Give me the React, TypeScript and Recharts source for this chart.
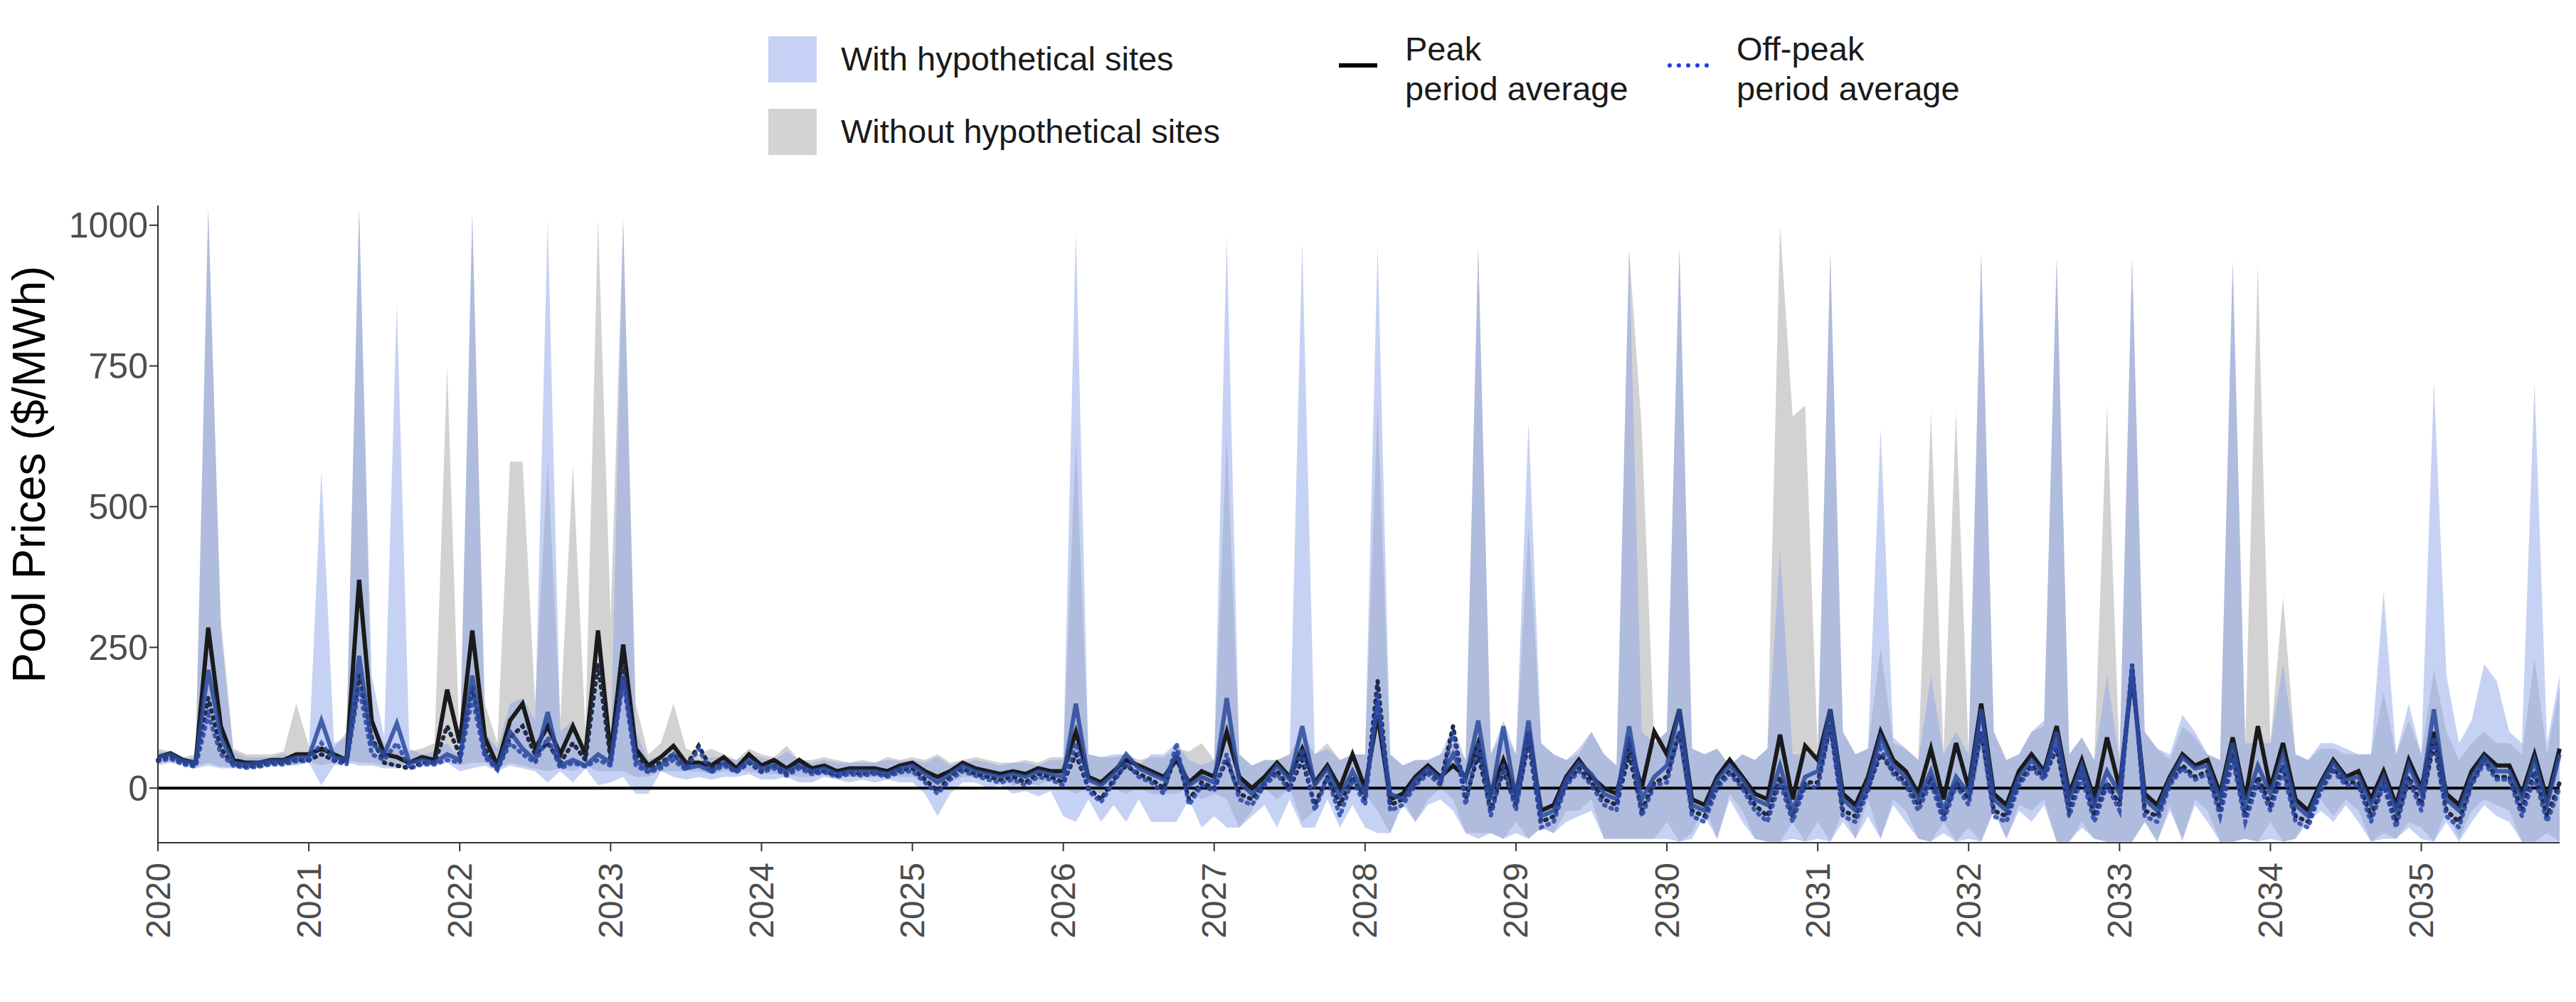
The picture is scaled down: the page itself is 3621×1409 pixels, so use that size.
import { ComposedChart, Area, Line, XAxis, YAxis, ReferenceLine } from 'recharts';

// monthly, Jan 2020 .. Dec 2035 (index = months since Jan 2020)
const withMax = [
  65, 62, 50, 55, 1030, 280, 65, 55, 55, 55, 60, 55,
  60, 565, 80, 90, 1030, 200, 90, 860, 70, 60, 65, 80,
  55, 1020, 100, 70, 150, 160, 120, 1010, 100, 120, 60, 200,
  60, 1010, 100, 50, 60, 80, 50, 50, 55, 55, 50, 60,
  55, 50, 65, 50, 45, 50, 45, 45, 45, 45, 50, 48,
  50, 45, 55, 40, 45, 50, 45, 40, 45, 45, 40, 50,
  50, 990, 60, 55, 60, 60, 40, 60, 60, 80, 50, 40,
  50, 980, 60, 40, 50, 50, 60, 970, 60, 70, 50, 60,
  60, 965, 60, 40, 50, 50, 60, 110, 50, 960, 60, 120,
  60, 650, 80, 60, 50, 70, 100, 60, 40, 955, 100, 80,
  100, 960, 70, 60, 70, 40, 60, 50, 70, 420, 60, 60,
  60, 950, 100, 60, 70, 640, 90, 70, 50, 200, 60, 100,
  60, 950, 100, 50, 60, 100, 120, 940, 60, 90, 50, 200,
  50, 940, 100, 70, 60, 130, 100, 60, 50, 940, 80, 80,
  80, 220, 60, 50, 80, 80, 70, 60, 60, 350, 60, 150,
  60, 720, 200, 80, 120, 220, 190, 100, 80, 720, 80, 200,
];
const withMin = [
  40, 45, 40, 35, 40, 35, 35, 35, 35, 40, 40, 40,
  45, 5, 40, 45, 40, 40, 35, 35, 40, 40, 40, 45,
  30, 35, 40, 30, 40, 35, 30, 10, 30, 10, 35, 5,
  10, 20, -10, -10, 30, 20, 15, 20, 15, 20, 20, 25,
  15, 15, 20, 10, 10, 20, 15, 10, 15, 10, 15, 10,
  10, -10, -50, -10, 10, 10, 0, 5, -10, -5, -15, -5,
  -50, -60, -20, -60, -30, -60, -20, -60, -60, -60, -20, -70,
  -50, -70, -70, -50, -30, -70, -20, -70, -70, -20, -70, -30,
  -70, -80, -80, -30, -60, -30, -20, -40, -80, -90, -80, -90,
  -80, -90, -70, -80, -60, -50, -40, -90, -90, -90, -90, -90,
  -90, -95, -90, -50, -90, -20, -60, -90, -95, -95, -90, -95,
  -90, -95, -60, -90, -50, -90, -30, -60, -90, -95, -80, -95,
  -90, -95, -40, -90, -40, -60, -30, -95, -95, -70, -90, -95,
  -95, -95, -60, -95, -40, -90, -30, -60, -95, -95, -90, -95,
  -90, -95, -90, -60, -40, -60, -30, -60, -95, -90, -90, -70,
  -90, -95, -60, -95, -60, -30, -50, -60, -95, -95, -95, -95,
];
const withoutMax = [
  70, 65, 55, 60, 1030, 300, 70, 60, 60, 60, 65, 150,
  75, 70, 70, 100, 1030, 120, 80, 70, 65, 70, 80, 750,
  60, 1020, 150, 80, 580, 580, 150, 580, 120, 575, 100, 1010,
  300, 1010, 150, 60, 80, 150, 70, 60, 70, 60, 50, 70,
  60, 55, 75, 50, 50, 55, 50, 45, 50, 45, 55, 50,
  55, 50, 60, 45, 50, 55, 50, 45, 45, 50, 45, 55,
  55, 620, 60, 55, 55, 60, 50, 55, 55, 70, 65, 80,
  50, 630, 60, 40, 50, 50, 60, 100, 60, 80, 50, 60,
  60, 680, 60, 40, 50, 50, 60, 80, 50, 960, 60, 100,
  60, 465, 80, 60, 50, 60, 100, 60, 40, 955, 640, 80,
  100, 960, 70, 60, 70, 40, 60, 50, 70, 1000, 660, 680,
  60, 950, 100, 60, 70, 250, 80, 70, 50, 670, 60, 670,
  60, 950, 100, 50, 60, 100, 110, 940, 60, 90, 50, 680,
  50, 940, 100, 70, 50, 110, 90, 60, 50, 930, 80, 930,
  80, 340, 60, 50, 70, 70, 60, 60, 60, 170, 60, 120,
  60, 210, 100, 50, 80, 100, 80, 80, 60, 230, 60, 180,
];
const withoutMin = [
  45, 48, 42, 38, 45, 38, 38, 38, 38, 42, 42, 42,
  48, 40, 45, 50, 45, 45, 40, 40, 42, 45, 45, 50,
  40, 45, 45, 35, 45, 40, 35, 30, 35, 30, 40, 30,
  30, 30, 20, 20, 30, 30, 30, 30, 25, 30, 30, 30,
  25, 25, 25, 20, 20, 25, 20, 20, 20, 20, 25, 20,
  20, 10, 0, 10, 20, 20, 15, 15, 5, 10, 5, 15,
  0, -10, 0, -10, 0, -10, 0, -10, -10, -10, 0, -20,
  -10, -20, -70, -40, 0, -20, 0, -60, -40, 0, -40, 0,
  -10, -40, -80, -20, -60, -20, 0, -20, -80, -80, -80, -90,
  -60, -90, -70, -80, -40, -40, -20, -90, -90, -90, -90, -90,
  -60, -95, -80, -30, -90, -10, -40, -90, -95, -95, -60, -95,
  -60, -95, -40, -90, -20, -90, -20, -40, -90, -95, -60, -95,
  -70, -95, -40, -90, -30, -40, -20, -95, -95, -60, -90, -95,
  -95, -95, -60, -95, -30, -95, -20, -40, -95, -95, -90, -95,
  -60, -95, -90, -50, -20, -50, -20, -40, -95, -80, -90, -60,
  -70, -95, -40, -90, -40, -20, -30, -40, -95, -95, -80, -95,
];
const peakWithout = [
  55, 62, 50, 45, 285, 110, 50, 45, 45, 50, 50, 60,
  60, 70, 60, 50, 370, 120, 60, 55, 45, 55, 50, 175,
  80, 280, 90, 40, 120, 150, 70, 110, 60, 110, 60, 280,
  60, 255, 70, 40, 55, 75, 45, 45, 40, 55, 35, 60,
  40, 50, 35, 50, 35, 40, 30, 35, 35, 35, 30, 40,
  45, 30, 20, 30, 45, 35, 30, 25, 30, 25, 35, 30,
  30, 100, 20, 10, 30, 50, 40, 30, 20, 50, 10, 30,
  20, 100, 20, 0, 20, 45, 20, 70, 10, 40, 0, 60,
  0, 130, -20, -10, 20, 40, 20, 40, 20, 80, -10, 50,
  -10, 100, -40, -30, 20, 50, 20, 0, -10, 80, 0, 100,
  60, 140, -20, -30, 20, 50, 20, -10, -20, 95, -20, 75,
  50, 140, -10, -30, 20, 100, 50, 30, -10, 70, -20, 80,
  0, 150, -10, -30, 30, 60, 30, 110, -10, 50, -20, 90,
  0, 200, -10, -30, 20, 60, 40, 50, -10, 90, -20, 110,
  0, 80, -20, -40, 10, 50, 20, 30, -20, 30, -30, 50,
  0, 100, -10, -30, 30, 60, 40, 40, -10, 60, -20, 70,
];
const peakWith = [
  55, 60, 48, 45, 210, 90, 45, 42, 45, 48, 48, 55,
  55, 120, 55, 50, 235, 80, 60, 115, 45, 50, 45, 60,
  50, 200, 60, 35, 100, 70, 50, 135, 40, 50, 40, 60,
  45, 200, 50, 30, 40, 60, 35, 40, 30, 45, 30, 50,
  35, 40, 30, 40, 30, 35, 25, 30, 30, 30, 25, 35,
  40, 25, 10, 25, 40, 30, 25, 20, 25, 20, 30, 25,
  20, 150, 15, 5, 25, 60, 35, 25, 15, 60, 5, 20,
  10, 160, 10, -10, 10, 40, 15, 110, 5, 35, -15, 30,
  -10, 150, -10, -20, 15, 35, 15, 60, 15, 120, -20, 110,
  -20, 120, -50, -40, 15, 45, 25, -10, -20, 110, -20, 20,
  40, 140, -30, -40, 15, 40, 15, -20, -30, 40, -40, 20,
  30, 140, -20, -40, 10, 90, 40, 20, -20, 30, -40, 20,
  -10, 140, -20, -40, 20, 50, 25, 100, -20, 40, -30, 30,
  -10, 210, -20, -40, 15, 55, 35, 40, -20, 80, -30, 40,
  -10, 60, -30, -50, 5, 45, 15, 20, -30, 20, -40, 40,
  -10, 140, -20, -40, 20, 55, 30, 30, -20, 50, -30, 60,
];
const offWithout = [
  50, 55, 45, 40, 160, 70, 42, 38, 40, 45, 45, 50,
  50, 60, 50, 45, 200, 90, 45, 40, 35, 45, 45, 110,
  60, 180, 70, 35, 90, 110, 60, 80, 45, 80, 50, 220,
  50, 220, 60, 35, 45, 60, 40, 75, 35, 45, 30, 45,
  30, 40, 25, 40, 28, 30, 22, 28, 25, 28, 22, 32,
  35, 15, -5, 20, 35, 25, 20, 15, 20, 10, 25, 20,
  10, 60, 0, -20, 15, 40, 25, 15, 0, 60, -20, 10,
  0, 50, -10, -20, 10, 30, 0, 50, -30, 20, -30, 20,
  -20, 190, -30, -20, 10, 30, 10, 110, -20, 60, -40, 30,
  -30, 80, -60, -50, 10, 35, 10, -20, -30, 60, -40, 10,
  20, 100, -40, -50, 5, 30, 5, -30, -50, 20, -50, 10,
  10, 110, -40, -50, 0, 60, 30, 10, -30, 20, -50, 10,
  -20, 100, -40, -50, 10, 40, 20, 70, -40, 30, -50, 10,
  -30, 220, -40, -50, 10, 40, 20, 30, -40, 60, -50, 20,
  -30, 40, -50, -60, 0, 35, 10, 10, -50, 10, -60, 20,
  -30, 80, -40, -60, 10, 50, 20, 20, -40, 30, -50, 10,
];
const offWith = [
  48, 52, 42, 38, 130, 60, 40, 36, 38, 42, 42, 48,
  48, 80, 48, 42, 180, 60, 50, 80, 35, 42, 42, 50,
  45, 160, 55, 32, 80, 60, 45, 90, 35, 45, 38, 50,
  40, 190, 40, 28, 35, 50, 32, 70, 28, 40, 28, 45,
  28, 35, 22, 35, 25, 28, 20, 25, 22, 25, 20, 28,
  30, 10, -10, 15, 30, 22, 15, 10, 15, 5, 20, 15,
  5, 80, -5, -25, 10, 45, 20, 10, -10, 80, -30, 5,
  -5, 60, -20, -30, 5, 25, -5, 70, -40, 20, -50, 15,
  -30, 170, -40, -30, 5, 25, 5, 100, -30, 80, -50, 40,
  -40, 90, -70, -60, 5, 30, 5, -30, -40, 90, -50, 5,
  10, 100, -50, -60, 0, 25, 0, -40, -60, 10, -60, 5,
  0, 110, -50, -60, -5, 70, 25, 5, -40, 10, -60, 5,
  -30, 100, -50, -60, 5, 35, 15, 80, -50, 20, -60, 5,
  -40, 220, -50, -60, 5, 35, 15, 25, -50, 50, -60, 10,
  -40, 30, -60, -70, -5, 30, 5, 5, -60, 5, -70, 15,
  -40, 90, -50, -70, 5, 45, 15, 15, -50, 20, -60, 0,
];

const yearTicks = [0, 12, 24, 36, 48, 60, 72, 84, 96, 108, 120, 132, 144, 156, 168, 180];
const yTicks = [0, 250, 500, 750, 1000];

const data = withMax.map((_, i) => ({
  m: i,
  withRange: [withMin[i], withMax[i]],
  withoutRange: [withoutMin[i], withoutMax[i]],
  peakWithout: peakWithout[i],
  peakWith: peakWith[i],
  offWithout: offWithout[i],
  offWith: offWith[i],
}));

const font = '"Liberation Sans", Arial, sans-serif';

const YearTick = ({ x, y, payload }: any) => (
  <text
    x={x}
    y={y + 14}
    transform={`rotate(-90 ${x} ${y + 14})`}
    textAnchor="end"
    dominantBaseline="central"
    fontSize={48}
    fill="#4d4d4d"
    fontFamily={font}
  >
    {2020 + payload.value / 12}
  </text>
);

const legendText: React.CSSProperties = { position: 'absolute', fontSize: 47, color: '#1a1a1a', fontFamily: font, lineHeight: '56px' };

export default function App() {
  return (
    <div style={{ position: 'absolute', left: 0, top: 0, width: 3621, height: 1409, background: '#fff' }}>
      <div style={{ position: 'absolute', left: 1080, top: 51, width: 68, height: 65, background: '#c6d2f5' }} />
      <div style={{ ...legendText, left: 1182, top: 55 }}>With hypothetical sites</div>
      <div style={{ position: 'absolute', left: 1080, top: 153, width: 68, height: 65, background: '#d3d3d3' }} />
      <div style={{ ...legendText, left: 1182, top: 157 }}>Without hypothetical sites</div>
      <div style={{ position: 'absolute', left: 1882, top: 89, width: 54, height: 6, background: '#000' }} />
      <div style={{ ...legendText, left: 1975, top: 41 }}>Peak<br />period average</div>
      <div style={{ position: 'absolute', left: 2344, top: 89, width: 58, height: 0, borderTop: '6px dotted #1f3fd6' }} />
      <div style={{ ...legendText, left: 2441, top: 41 }}>Off-peak<br />period average</div>

      <ComposedChart
        width={3621}
        height={1409}
        data={data}
        margin={{ top: 289, right: 23, left: 0, bottom: 0 }}
      >
        <XAxis
          dataKey="m"
          type="number"
          domain={[0, 191]}
          ticks={yearTicks}
          interval={0}
          height={224}
          tick={<YearTick />}
          tickSize={12}
          stroke="#333"
          strokeWidth={2}
        />
        <XAxis xAxisId="top" orientation="top" dataKey="m" type="number" domain={[0, 191]} tick={false} tickLine={false} height={0} stroke="#333" strokeWidth={2} />
        <YAxis
          type="number"
          domain={[-97, 1035]}
          allowDataOverflow
          ticks={yTicks}
          width={222}
          tickSize={12}
          stroke="#333"
          strokeWidth={2}
          tick={{ fontSize: 50, fill: '#4d4d4d', fontFamily: font }}
          label={{ value: 'Pool Prices ($/MWh)', angle: -90, position: 'insideLeft', offset: 40, dy: -70, style: { fontSize: 64, fill: '#000', fontFamily: font, textAnchor: 'middle' } }}
        />
        <YAxis yAxisId="right" orientation="right" domain={[-97, 1035]} tick={false} tickLine={false} width={0} stroke="#333" strokeWidth={2} />
        <Area dataKey="withoutRange" type="linear" stroke="none" fill="#a6a6a6" fillOpacity={0.5} isAnimationActive={false} />
        <Area dataKey="withRange" type="linear" stroke="none" fill="#8ea6ea" fillOpacity={0.5} isAnimationActive={false} />
        <ReferenceLine y={0} stroke="#000" strokeWidth={4} />
        <Line dataKey="peakWithout" type="linear" stroke="#1a1a1a" strokeWidth={6} dot={false} isAnimationActive={false} />
        <Line dataKey="offWithout" type="linear" stroke="#1f2a44" strokeWidth={6} strokeDasharray="2 8" strokeLinecap="round" dot={false} isAnimationActive={false} />
        <Line dataKey="peakWith" type="linear" stroke="#2c4a9c" strokeOpacity={0.85} strokeWidth={6} dot={false} isAnimationActive={false} />
        <Line dataKey="offWith" type="linear" stroke="#2a47a8" strokeOpacity={0.85} strokeWidth={6} strokeDasharray="2 8" strokeLinecap="round" dot={false} isAnimationActive={false} />
      </ComposedChart>
    </div>
  );
}
